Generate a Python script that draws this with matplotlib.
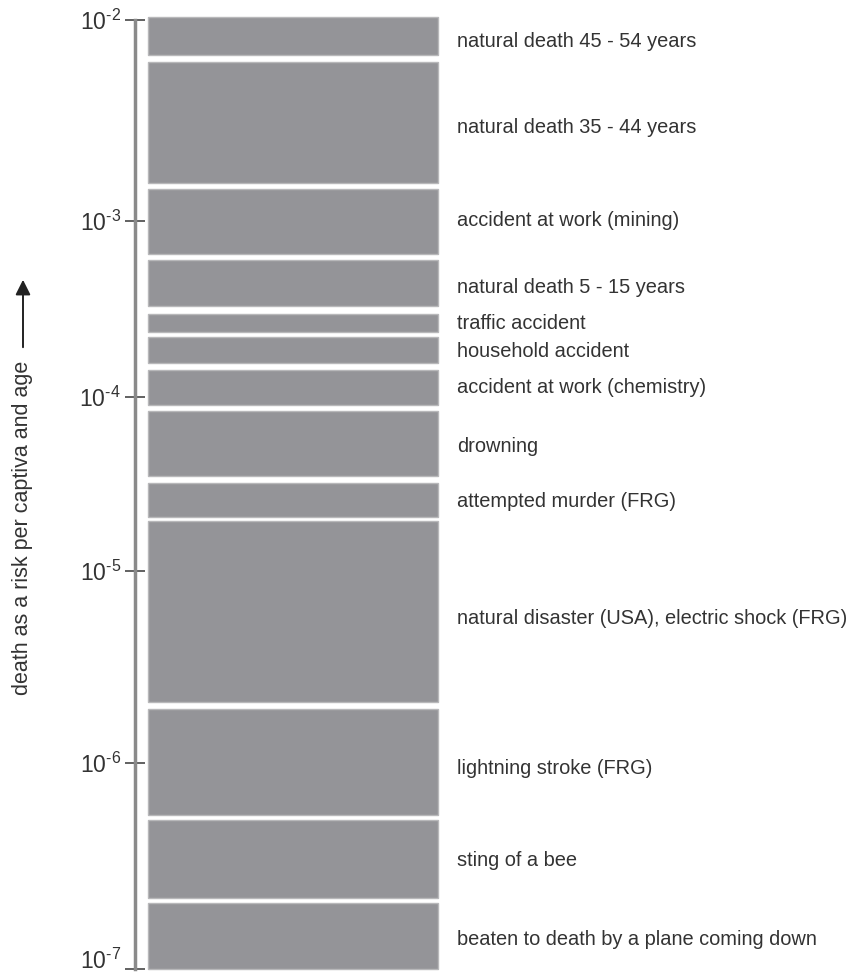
import numpy as np
import matplotlib

matplotlib.use("Agg")

import matplotlib.pyplot as plt
from matplotlib.patches import Rectangle, FancyArrowPatch

plt.rcParams["font.family"] = ["Liberation Sans", "DejaVu Sans"]
plt.rcParams["mathtext.fontset"] = "custom"
plt.rcParams["mathtext.rm"] = "Liberation Sans"

# risk ranges (lower, upper) per capita and age
labels = [
    "natural death 45 - 54 years",
    "natural death 35 - 44 years",
    "accident at work (mining)",
    "natural death 5 - 15 years",
    "traffic accident",
    "household accident",
    "accident at work (chemistry)",
    "drowning",
    "attempted murder (FRG)",
    "natural disaster (USA), electric shock (FRG)",
    "lightning stroke (FRG)",
    "sting of a bee",
    "beaten to death by a plane coming down",
]
risk_high = [1.03e-2, 6.2e-3, 1.44e-3, 6.0e-4, 2.95e-4, 2.19e-4, 1.42e-4,
             8.3e-5, 3.22e-5, 1.94e-5, 1.90e-6, 5.27e-7, 2.08e-7]
risk_low = [6.7e-3, 1.55e-3, 6.5e-4, 3.3e-4, 2.34e-4, 1.56e-4, 9.0e-5,
            3.52e-5, 2.04e-5, 2.07e-6, 5.6e-7, 2.2e-7, 1.0e-7]
decades = [-7, -6, -5, -4, -3, -2]
tick_labels = ["$\\mathregular{10^{\u2010%d}}$" % -d for d in decades]

# label nudges (points, downward) so the text sits as in the original
label_nudge = [4, 4, -2, 3, 0, 1, 0, 2, 1, 7, 6, 1, 2]

# the original axis is hand drawn: decades are not equally long
decade_len = [206, 192, 174, 176, 201]
_exp = np.array([-8] + decades + [-1], dtype=float)
_pos = np.concatenate([[-decade_len[0]], np.cumsum([0] + decade_len)])
_pos = np.append(_pos, _pos[-1] + decade_len[-1])


def forward(v):
    return np.interp(np.log10(np.clip(v, 1e-300, None)), _exp, _pos)


def inverse(p):
    return 10 ** np.interp(p, _pos, _exp)


W, H = 850, 977
fig = plt.figure(figsize=(W / 100, H / 100), dpi=100)
ax = fig.add_axes([135 / W, 1 - 969 / H, (438 - 135) / W, (969 - 20) / H])
ax.set_yscale("function", functions=(forward, inverse))
ax.set_ylim(1e-7, 1e-2)
ax.set_xlim(0, 1)

bar_left = (148 - 135) / (438 - 135)
for lab, lo, hi, dy in zip(labels, risk_low, risk_high, label_nudge):
    ax.add_patch(Rectangle((bar_left, lo), 1 - bar_left, hi - lo,
                           facecolor="#949498", edgecolor="#b8b8ba",
                           linewidth=1.0, clip_on=False))
    mid = np.sqrt(lo * hi)
    ax.annotate(lab, xy=(1, mid), xycoords=("axes fraction", "data"),
                xytext=(14, -dy), textcoords="offset points",
                ha="left", va="center", fontsize=14.4, color="#333333")

for s in ["top", "right", "bottom"]:
    ax.spines[s].set_visible(False)
ax.spines["left"].set_color("#8a8a8a")
ax.spines["left"].set_linewidth(2.5)
ax.set_xticks([])
ax.set_yticks([10.0 ** d for d in decades])
ax.set_yticklabels(tick_labels)
ax.yaxis.set_minor_locator(matplotlib.ticker.NullLocator())
ax.tick_params(axis="y", direction="inout", length=14.5, width=1.3,
               color="#555555", pad=3, labelsize=16.5, labelcolor="#333333")
ax.get_yticklabels()[0].set_verticalalignment("baseline")

# rotated axis title with arrow
fig.text(23 / W, 1 - 528 / H, "death as a risk per captiva and age",
         rotation=90, ha="center", va="center", fontsize=15.5, color="#333333")
fig.add_artist(FancyArrowPatch(
    (23 / W, 1 - 350 / H), (23 / W, 1 - 277 / H),
    transform=fig.transFigure, arrowstyle="-|>,head_length=6,head_width=3",
    color="#222222", linewidth=1.4, mutation_scale=1.5))

fig.savefig("out.png", dpi=100, facecolor="white")
